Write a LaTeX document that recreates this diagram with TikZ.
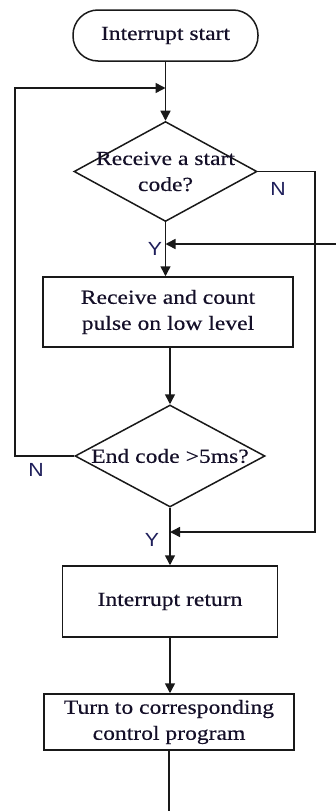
\documentclass[tikz,border=0pt]{standalone}
\usepackage{fontspec}
\setmainfont{Liberation Serif}[FakeStretch=1.18,FakeBold=0.4]
\newfontfamily\ynfont{Liberation Sans}[FakeStretch=1.12]
\usetikzlibrary{shapes.geometric,arrows.meta}
\definecolor{ln}{RGB}{25,25,25}
\definecolor{tx}{RGB}{20,15,40}
\definecolor{ynclr}{RGB}{30,30,90}
\begin{document}
\begin{tikzpicture}[x=1pt,y=-1pt,
  txt/.style={text=tx,font=\fontsize{20}{26}\selectfont,align=center,inner sep=0pt},
  base/.style={txt,draw=ln,line width=1.5pt},
  term/.style={base,rounded corners=25pt,minimum width=185pt,minimum height=51pt},
  proc/.style={base,rectangle,minimum width=250pt,minimum height=70pt},
  dia/.style={base,diamond,minimum width=183pt,minimum height=100pt},
  flow/.style={draw=ln,line width=1.5pt,-{Triangle[length=10pt,width=10pt]}},
  plain/.style={draw=ln,line width=1.5pt},
  yn/.style={text=ynclr,font=\ynfont\fontsize{19}{20}\selectfont,inner sep=0pt}]
\useasboundingbox (0,0) rectangle (336,811);
\node[term] (start) at (165.5,35.5) {Interrupt start};
\node[dia,label={[txt]center:{Receive a start\\code?}}] (d1) at (165.5,171.5) {};
\node[proc] (b1) at (168,312) {Receive and count\\pulse on low level};
\node[dia,minimum width=190pt,minimum height=102pt,label={[txt]center:{End code >5ms?}}] (d2) at (170,456) {};
\node[proc,minimum width=215pt,minimum height=71pt] (b2) at (170,601.5) {Interrupt return};
\node[proc,minimum height=56pt] (b3) at (169,722) {Turn to corresponding\\control program};
\coordinate (j1) at (165.5,88);
\coordinate (j3) at (165.5,244);
\coordinate (in) at (336,244);
\coordinate (j2) at (170,532);
\coordinate (r1) at (315,532);
\coordinate (l1) at (15,456);
\coordinate (fin) at (165,811);
\draw[flow] (start) -- (d1);
\draw[flow] (d1.south) -- (d1.south |- b1.north);
\draw[flow] (d2.north |- b1.south) -- (d2.north);
\draw[flow] (d2) -- (b2);
\draw[flow] (b2.south) -- (b2.south |- b3.north);
\draw[plain] (b3.south) -- (b3.south |- fin);
\draw[flow] (d2.west) -- (l1) |- (j1);
\draw[flow] (d1.east) -| (r1) -- (j2);
\draw[flow] (in) -- (j3);
\node[yn] (n1) at (278,189) {N};
\node[yn] (y1) at (155,249) {Y};
\node[yn] (n2) at (36,470) {N};
\node[yn] (y2) at (152,540) {Y};
\end{tikzpicture}
\end{document}
